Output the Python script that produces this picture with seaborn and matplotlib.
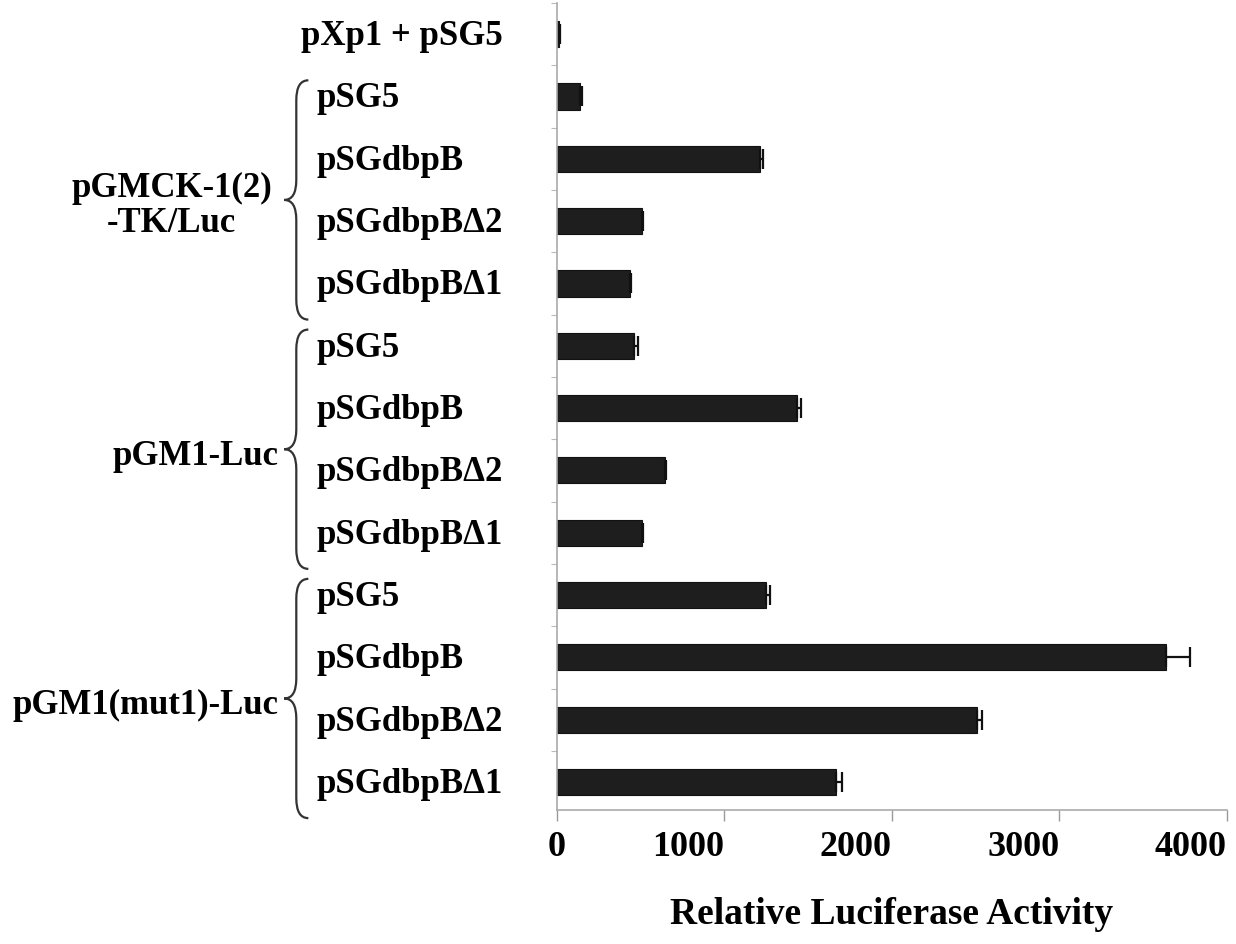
import matplotlib
matplotlib.use('Agg')
import matplotlib.pyplot as plt
from matplotlib.path import Path
from matplotlib.patches import PathPatch
import matplotlib.transforms as mtransforms
import numpy as np
import pandas as pd
import seaborn as sns

# valores
construcoes = ['pXp1 + pSG5',
               'pSG5', 'pSGdbpB', 'pSGdbpBΔ2', 'pSGdbpBΔ1',
               'pSG5', 'pSGdbpB', 'pSGdbpBΔ2', 'pSGdbpBΔ1',
               'pSG5', 'pSGdbpB', 'pSGdbpBΔ2', 'pSGdbpBΔ1']
reporteres = ['', 'pGMCK-1(2)\n-TK/Luc', 'pGM1-Luc', 'pGM1(mut1)-Luc']
grupo_da_linha = [0, 1, 1, 1, 1, 2, 2, 2, 2, 3, 3, 3, 3]
atividade = [12, 140, 1215, 505, 435, 460, 1435, 645, 505, 1250, 3635, 2510, 1666]
erro = [4, 8, 15, 8, 8, 22, 20, 8, 10, 20, 145, 30, 35]
ticks_x = [0, 1000, 2000, 3000, 4000]

df = pd.DataFrame({
    'linha': [f'{i:02d}' for i in range(len(construcoes))],
    'construcao': construcoes,
    'grupo': grupo_da_linha,
    'atividade': atividade,
    'erro': erro,
})

sns.set_theme(style='white')
plt.rcParams['font.family'] = ['Liberation Serif', 'DejaVu Serif']
plt.rcParams['font.weight'] = 'bold'
plt.rcParams['text.color'] = 'black'
plt.rcParams['axes.labelcolor'] = 'black'
plt.rcParams['xtick.color'] = 'black'

fig = plt.figure(figsize=(12.36, 9.44), dpi=100)
ax = fig.add_axes([0.4506, 0.1419, 0.5421, 0.8549])

sns.barplot(data=df, x='atividade', y='linha', orient='h', color='#1e1e1e',
            width=0.42, errorbar=None, saturation=1, ax=ax)
for p in ax.patches:
    p.set_edgecolor('#111111')
    p.set_linewidth(0.8)

pos = np.arange(len(df))
ax.errorbar(df['atividade'], pos, xerr=[np.zeros(len(df)), df['erro']],
            fmt='none', ecolor='#111111', elinewidth=1.6, capsize=7, capthick=1.6)

ax.set_xlim(0, 4000)
ax.set_ylim(12.45, -0.464)
ax.set_xticks(ticks_x)
ax.set_xticklabels([str(t) for t in ticks_x], fontsize=26, fontweight='bold')
for i, lbl in enumerate(ax.get_xticklabels()):
    lbl.set_ha('center' if i == 0 else 'right')
ax.tick_params(axis='x', length=8, width=1, color='#999999', labelcolor='black', pad=7, bottom=True)
ax.set_yticks(np.arange(len(df)) - 0.5, minor=True)
ax.set_yticks([])
ax.tick_params(axis='y', which='minor', length=4, width=0.8, color='#bbbbbb', left=True)
ax.set_xlabel('Relative Luciferase Activity', fontsize=27, fontweight='bold', labelpad=24)
ax.set_ylabel('')
for lado in ['top', 'right']:
    ax.spines[lado].set_visible(False)
for lado in ['left', 'bottom']:
    ax.spines[lado].set_color('#aaaaaa')
    ax.spines[lado].set_linewidth(1.2)

trans = mtransforms.blended_transform_factory(ax.transAxes, ax.transData)

# rótulos das construções
for i, nome in enumerate(construcoes):
    if grupo_da_linha[i] == 0:
        ax.text(-0.0805, i + 0.04, nome, transform=trans, ha='right', va='center',
                fontsize=25, fontweight='bold')
    else:
        ax.text(-0.359, i + 0.04, nome, transform=trans, ha='left', va='center',
                fontsize=25, fontweight='bold')


def chave(y0, y1, x_ponta, x_haste, x_fim, r):
    ym = (y0 + y1) / 2
    verts = [(x_fim, y0), (x_haste, y0), (x_haste, y0 + r),
             (x_haste, ym - r), (x_haste, ym), (x_ponta, ym),
             (x_haste, ym), (x_haste, ym + r),
             (x_haste, y1 - r), (x_haste, y1), (x_fim, y1)]
    codes = [Path.MOVETO, Path.CURVE3, Path.CURVE3,
             Path.LINETO, Path.CURVE3, Path.CURVE3,
             Path.CURVE3, Path.CURVE3,
             Path.LINETO, Path.CURVE3, Path.CURVE3]
    ax.add_patch(PathPatch(Path(verts, codes), transform=trans, fill=False,
                           edgecolor='#333333', lw=1.6, clip_on=False))


# chaves e nomes dos repórteres
for g in range(1, len(reporteres)):
    linhas = [i for i, gg in enumerate(grupo_da_linha) if gg == g]
    y0, y1 = linhas[0] - 0.26, linhas[-1] + 0.58
    chave(y0, y1, -0.407, -0.389, -0.371, 0.32)
    ym = (y0 + y1) / 2
    if g == 1:
        ax.text(-0.575, ym + 0.1, reporteres[g], transform=trans, ha='center', va='center',
                fontsize=25, fontweight='bold', linespacing=1.1)
    else:
        ax.text(-0.416, ym + 0.12, reporteres[g], transform=trans, ha='right', va='center',
                fontsize=25, fontweight='bold')

fig.savefig('out.png', dpi=100)
